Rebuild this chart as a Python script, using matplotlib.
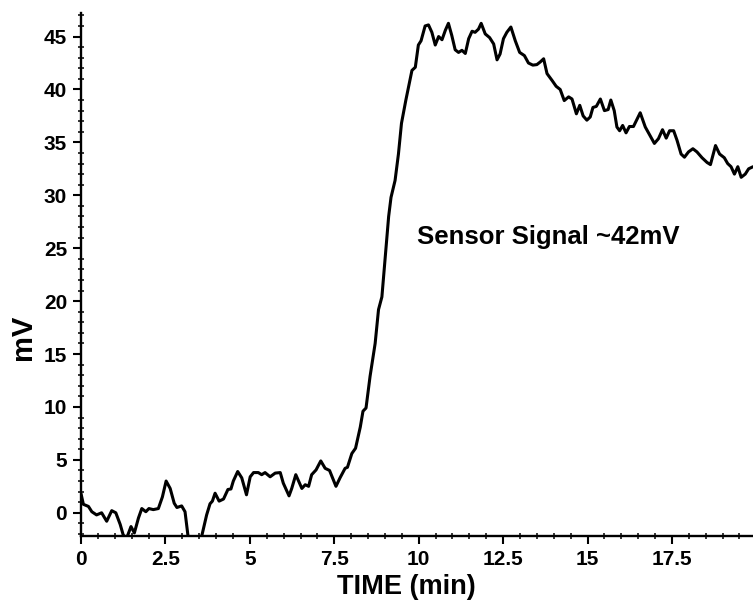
import matplotlib
matplotlib.use("Agg")
import matplotlib.pyplot as plt
from matplotlib.ticker import MultipleLocator

plt.rcParams["font.family"] = ["Liberation Sans", "DejaVu Sans"]
plt.rcParams["font.weight"] = "bold"

# sensor trace, time in minutes and signal in mV
time_min = [
    0.00, 0.07, 0.22, 0.32, 0.46, 0.61, 0.76, 0.91, 1.03, 1.16, 1.25, 1.35,
    1.48, 1.58, 1.70, 1.80, 1.92, 2.01, 2.14, 2.29, 2.41, 2.52, 2.64, 2.76,
    2.84, 2.98, 3.08, 3.18, 3.30, 3.45, 3.56, 3.72, 3.82, 3.89, 3.97, 4.09,
    4.22, 4.35, 4.44, 4.51, 4.64, 4.76, 4.90, 5.01, 5.11, 5.25, 5.35, 5.45,
    5.60, 5.75, 5.90, 5.99, 6.16, 6.24, 6.36, 6.54, 6.64, 6.74, 6.83, 6.96,
    7.10, 7.23, 7.36, 7.55, 7.67, 7.82, 7.89, 8.02, 8.13, 8.27, 8.35, 8.44,
    8.56, 8.71, 8.81, 8.91, 9.01, 9.11, 9.18, 9.30, 9.40, 9.49, 9.62, 9.80,
    9.90, 9.99, 10.07, 10.19, 10.29, 10.39, 10.49, 10.59, 10.69, 10.79,
    10.88, 10.98, 11.08, 11.18, 11.28, 11.38, 11.48, 11.58, 11.67, 11.77,
    11.85, 11.97, 12.10, 12.22, 12.32, 12.41, 12.51, 12.61, 12.73, 12.86,
    12.99, 13.13, 13.25, 13.38, 13.50, 13.60, 13.70, 13.80, 13.95, 14.07,
    14.19, 14.31, 14.44, 14.54, 14.67, 14.77, 14.87, 14.98, 15.08, 15.16,
    15.26, 15.38, 15.50, 15.61, 15.69, 15.79, 15.87, 15.95, 16.04, 16.14,
    16.24, 16.36, 16.56, 16.71, 16.84, 16.98, 17.10, 17.22, 17.33, 17.43,
    17.55, 17.65, 17.77, 17.87, 17.99, 18.12, 18.24, 18.39, 18.54, 18.64,
    18.79, 18.91, 19.05, 19.15, 19.25, 19.35, 19.45, 19.55, 19.67, 19.77,
    19.90,
]
signal_mv = [
    1.8, 0.8, 0.6, 0.1, -0.2, 0.0, -0.8, 0.2, 0.0, -1.1, -2.1, -2.4,
    -1.3, -1.9, -0.5, 0.4, 0.1, 0.4, 0.3, 0.4, 1.5, 3.0, 2.3, 0.9,
    0.5, 0.65, 0.1, -2.5, -6.0, -6.0, -2.4, -0.2, 0.85, 1.1, 1.85, 1.1,
    1.3, 2.2, 2.25, 3.0, 3.9, 3.3, 1.7, 3.4, 3.8, 3.8, 3.6, 3.8,
    3.4, 3.75, 3.8, 2.8, 1.6, 2.3, 3.6, 2.3, 2.65, 2.5, 3.6, 4.05,
    4.9, 4.2, 4.0, 2.5, 3.3, 4.2, 4.3, 5.6, 6.1, 8.1, 9.6, 9.9,
    12.9, 16.0, 19.2, 20.4, 24.2, 28.0, 29.8, 31.4, 33.9, 36.8, 39.0, 41.8,
    42.1, 44.2, 44.6, 46.0, 46.1, 45.4, 44.2, 45.0, 44.7, 45.6,
    46.25, 45.1, 43.75, 43.5, 43.7, 43.4, 44.8, 45.5, 45.4, 45.7,
    46.25, 45.25, 44.9, 44.3, 42.8, 43.35, 44.8, 45.4, 45.9, 44.6,
    43.5, 43.2, 42.5, 42.3, 42.35, 42.6, 42.9, 41.5, 40.85, 40.3,
    40.0, 38.95, 39.3, 39.1, 37.7, 38.5, 37.5, 37.1, 37.4, 38.3,
    38.4, 39.1, 38.0, 38.1, 39.0, 38.0, 36.45, 36.1, 36.6, 35.9,
    36.5, 36.5, 37.8, 36.45, 35.7, 34.9, 35.35, 36.2, 35.4, 36.1,
    36.1, 35.2, 33.9, 33.6, 34.1, 34.4, 34.1, 33.55, 33.1, 32.9,
    34.7, 33.9, 33.55, 33.0, 32.7, 32.0, 32.7, 31.7, 32.0, 32.5,
    32.7,
]

x_ticks = [0, 2.5, 5, 7.5, 10, 12.5, 15, 17.5]
x_tick_labels = ["0", "2.5", "5", "7.5", "10", "12.5", "15", "17.5"]
y_ticks = [0, 5, 10, 15, 20, 25, 30, 35, 40, 45]

fig = plt.figure(figsize=(7.53, 6.03), dpi=100)
ax = fig.add_axes([0.1076, 0.111, 0.8924, 0.867])

ax.plot(time_min, signal_mv, color="black", lw=2.2, solid_joinstyle="round",
        solid_capstyle="round")

ax.set_xlim(0, 19.9)
ax.set_ylim(-2.2, 47.2)

for side in ("top", "right"):
    ax.spines[side].set_visible(False)
for side in ("left", "bottom"):
    ax.spines[side].set_linewidth(1.7)

ax.set_xticks(x_ticks)
ax.set_xticklabels(x_tick_labels)
ax.set_yticks(y_ticks)
ax.xaxis.set_minor_locator(MultipleLocator(0.5))
ax.yaxis.set_minor_locator(MultipleLocator(1))
ax.tick_params(which="major", direction="out", length=6, width=1.5,
               labelsize=15, pad=4)
ax.tick_params(which="minor", direction="inout", length=4, width=1.1)

ax.set_xlabel("TIME (min)", fontsize=19.5, fontweight="bold")
ax.xaxis.set_label_coords(0.484, -0.072)
ax.set_ylabel("mV", fontsize=21, fontweight="bold")
ax.yaxis.set_label_coords(-0.066, 0.38)

ax.text(9.95, 26.1, "Sensor Signal ~42mV", fontsize=18.5, fontweight="bold",
        ha="left", va="center")

fig.savefig("out.png", dpi=100)
